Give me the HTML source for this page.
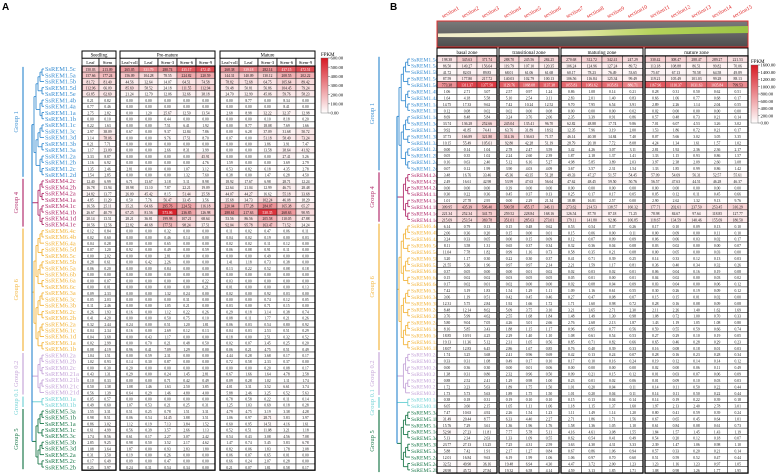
<!DOCTYPE html>
<html><head><meta charset="utf-8">
<style>
html,body{margin:0;padding:0;background:#fff;}
svg{display:block;font-family:"Liberation Serif",serif;}
</style></head>
<body>
<svg id="fig" width="779" height="474" viewBox="0 0 779 474" xmlns="http://www.w3.org/2000/svg">
<defs>
<linearGradient id="leafGrad" x1="0" x2="1" y1="0" y2="0"><stop offset="0" stop-color="#f3efcf"/><stop offset="0.45" stop-color="#e4e6a8"/><stop offset="0.7" stop-color="#b4d25a"/><stop offset="1" stop-color="#9cc444"/></linearGradient>
<linearGradient id="bgGrad" x1="0" x2="0" y1="0" y2="1"><stop offset="0" stop-color="#7a7a7a"/><stop offset="1" stop-color="#4e4e4e"/></linearGradient>
<linearGradient id="fpkmGrad" x1="0" x2="0" y1="0" y2="1"><stop offset="0" stop-color="rgb(215,25,35)"/><stop offset="1" stop-color="#ffffff"/></linearGradient>
</defs>
<text x="2" y="10" font-family="Liberation Sans" font-weight="bold" font-size="10">A</text>
<text x="390" y="10" font-family="Liberation Sans" font-weight="bold" font-size="10">B</text>
<g id="gA"></g>
<g id="gB"></g>
</svg>
<script>
const genes = ["1.5c","1.5a","1.5b","1.5d","1.5e","1.4b","1.4a","1.1a","1.1b","1.1c","1.3c","1.3d","1.3b","1.3a","1.2a","1.2b","1.2c","1.2d",
"4.2c","4.2b","4.2a","4.1a","4.1c","4.1b","4.1d","4.1e",
"6.4c","6.4b","6.4a","6.5d","6.5c","6.5b","6.5a","6.6b","6.6a","6.6c","6.3a","6.3c","6.3b","6.2c","6.2b","6.2a","6.1c","6.1d","6.1a","6.1b",
"0.2a","0.2b","0.2c","0.21a","0.21b","0.21c","0.21d","0.1a","0.1b",
"5.3a","5.1b","5.1a","5.1c","5.3c","5.3b","5.3d","5.2a","5.2c","5.2b"];
const groupNames = ["Group 1","Group 4","Group 6","Group 0.2","Group 0.1","Group 5"];
const groupSizes = [18,8,20,7,2,10];
const groupColors = ["#3b8fd2","#b3306e","#f3b63f","#c6a6d9","#74d3d6","#1e7a4c"];
const stagesA = ["Seedling","Pre-mature","Mature"];
const colsA = [["Leaf","Stem"],["Leaf-roll","Leaf","Stem-3","Stem-6","Stem-9"],["Leaf-roll","Leaf","Stem-3","Stem-6","Stem-9"]];
const zonesB = ["basal zone","transitional zone","maturing zone","mature zone"];
const zoneColsB = [3,3,4,5];
const sectionsB = ["section1","section2","section3","section4","section5","section6","section7","section8","section9","section10","section11","section12","section13","section14","section15"];
const legendTicksA = [600,500,400,300,200,100,0];
const legendTicksB = [1600,1400,1200,1000,800,600,400,200,0];
const valsA = [
[150.03,213.09,265.05,331.79,280.74,435.17,472.45,268.38,339.18,282.14,437.15,472.51],
[157.66,177.24,156.09,104.28,78.55,224.82,220.59,144.31,140.09,130.12,208.55,202.22],
[81.72,81.40,44.56,32.64,14.07,64.51,74.58,78.82,72.68,64.75,105.64,89.42],
[112.96,66.09,85.69,58.52,24.18,111.55,112.94,59.48,50.81,56.86,104.45,79.24],
[63.85,62.69,21.24,12.79,12.06,32.66,38.18,24.70,32.99,45.06,59.76,58.23],
[0.21,0.82,0,0,0,0,0,0,8.77,0,8.34,0],
[0.77,0.46,0,0,0,0,0,0,0,0,8.41,0],
[2.75,2.82,0,1.20,25.67,12.50,13.54,2.68,8.98,32.22,32.37,12.98],
[0,0.10,0,0,0.44,0,0,0,0,0.10,8.18,0.20],
[0.22,1.63,0,0,7.51,6.41,1.92,0,8.77,18.08,7.69,1.66],
[2.97,38.09,0.67,0,9.37,12.84,7.86,0,6.28,37.09,31.68,50.72],
[3.14,78.06,0,0,9.76,17.51,8.70,0.07,0,51.18,58.49,73.24],
[0.21,7.71,0,0,0,0,0,0,0,3.86,3.91,7.47],
[1.17,23.09,0,0,2.66,8.31,3.99,0,0,13.58,38.64,41.92],
[3.33,8.87,0,0,0,0,45.91,0,0,0,27.41,5.26],
[1.16,6.92,0,0,0,0,4.76,1.59,0,0,3.69,2.79],
[1.35,2.46,2.81,0,0,1.07,3.12,0.53,0.82,6.18,4.35,2.78],
[1.54,2.85,0,0,0,1.32,7.60,0.38,0,1.47,6.28,4.50],
[12.40,6.99,6.71,13.67,3.18,5.11,8.98,18.92,17.67,6.98,28.71,12.24],
[16.78,13.94,18.98,13.10,7.87,22.21,19.09,22.64,21.04,12.99,46.73,28.48],
[24.82,13.77,26.09,45.42,8.15,51.44,25.58,44.07,44.27,16.62,55.18,33.68],
[4.85,11.29,0.50,7.76,56.47,33.45,3.56,35.68,34.73,102.24,46.08,18.29],
[16.56,25.11,35.21,64.66,295.76,224.52,116.18,220.04,177.28,284.07,165.38,65.27],
[26.67,40.79,67.25,81.56,573.06,236.85,126.98,288.61,217.63,530.35,268.63,90.95],
[20.14,13.51,28.21,36.81,199.98,107.21,68.64,53.56,86.56,205.58,110.05,47.88],
[10.56,12.56,22.82,40.68,177.51,98.24,37.51,92.04,95.78,163.47,71.52,24.24],
[0.12,0.84,0,0,0.32,0,0,0.11,0.02,0.47,0.06,0.11],
[0.02,0.60,0,0,0.46,0.14,0,0.04,0.02,0.19,0,0.03],
[0.04,0.28,0,0,0.65,0,0,0.02,0.02,0.11,0.12,0],
[0.07,1.20,0.92,0,0.49,0,0.59,0.06,0.08,0.91,0.11,0],
[0,2.02,0,0,2.81,0,0,0,0,0.49,0,0],
[0.28,0.61,0,6.42,2.26,0,0,1.41,1.18,0.73,0.38,0],
[0.06,0.20,0,0,0.84,0,0,0.13,0.22,0.52,0.08,0.18],
[0,0,0,0,0,0,0,0,0,0,0,0],
[0,0.07,0,0,0,0,0.22,0.03,0,0,0,0],
[0,0.01,0,0,0,0,0.21,0.01,0,0,0,0.13],
[0.09,2.33,0,0,1.32,0.24,0,0.02,0,0.92,0.03,0],
[0.05,2.03,0,0,0,0.31,0,0,0,0.74,0.12,0.05],
[0.11,2.46,0,0,1.05,0.21,0,0.03,0,0.71,0.15,0],
[0.26,1.93,0.16,0,1.12,0.22,0.26,0.29,0.18,3.14,0.38,0.74],
[0.41,4.20,0,0,0.50,0.75,0.10,0.08,0.11,1.77,0.21,0.26],
[0.32,2.44,0.24,0,0.51,1.20,1.81,0.06,0.03,0.54,0.80,0.92],
[0.04,2.34,0.16,0,2.69,0.12,0.13,0.04,0.03,2.53,0.51,0.29],
[0.04,3.68,0,0.43,1.17,0,0,0.18,0,2.51,0.32,0.52],
[0.02,2.99,0,0.70,0.21,0.48,0.50,0.02,0.07,3.45,0.25,0.20],
[0.08,4.19,0.96,0.41,7.09,1.29,0,0.06,0.21,4.75,0.51,0.49],
[1.04,1.51,0,0.59,2.31,0,0,4.44,0.28,3.68,0.17,0.17],
[1.02,0.93,0.14,0.30,0.87,0,0,0.72,0.58,2.33,0.37,0],
[0,0.30,0.20,0,0,0,0,0,0,0.20,0.08,0.17],
[0.43,1.31,0.29,0,0.24,1.45,2.81,0.67,1.66,1.64,4.78,2.58],
[0.10,0.33,0,0,0.71,0.42,0.49,0.09,0.28,1.02,1.11,1.74],
[0.50,1.38,1.08,1.46,1.63,2.50,3.85,4.01,3.31,3.52,6.61,3.74],
[0.56,1.39,0.64,0.29,1.46,4.80,4.00,5.88,2.46,3.25,6.52,5.63],
[0.05,0.57,0,0,0,0,0,0.78,0.58,0.22,0.11,0.14],
[0.49,0.60,1.07,0.53,0.21,0.25,0.31,1.25,1.03,0.69,0.18,0.28],
[1.55,3.31,0.51,0.25,0.78,1.51,3.31,4.79,4.75,3.19,3.38,4.28],
[0.98,8.51,0.06,0.54,14.45,3.88,3.51,1.06,0.97,28.71,5.83,3.97],
[0.86,3.02,1.12,0.19,7.13,3.84,1.52,0.60,0.95,14.51,4.16,1.61],
[0.61,4.99,0.56,0.39,3.57,2.66,1.13,0.52,0.51,11.08,3.21,1.18],
[1.74,8.56,0.61,0.17,2.27,3.07,2.42,0.54,0.43,3.08,4.56,7.08],
[2.85,9.25,0.98,0.50,3.52,2.17,4.62,1.47,0.74,5.45,5.83,6.78],
[1.08,3.64,1.87,0,0.93,2.83,1.80,0.82,0.06,1.83,1.78,2.08],
[0.31,3.50,0.19,0,0.26,0,0,0.06,0.07,0.65,0.01,0],
[0.17,6.49,0.09,0,0.47,0,0,0.66,0.24,2.07,0.28,0],
[0.25,5.97,0.24,0.31,0.54,0.34,0,0.21,0.07,1.81,0.58,0.17]];
const valsB = [
[198.38,345.63,371.74,288.70,245.56,284.25,270.68,312.72,342.41,247.29,330.42,308.47,288.47,289.27,221.53],
[86.50,149.27,156.64,119.79,107.10,120.35,106.24,124.96,127.24,89.72,113.18,108.88,86.51,99.82,70.06],
[41.72,82.03,89.83,68.01,61.06,61.68,60.17,78.23,76.49,53.65,75.67,67.13,70.58,64.58,49.89],
[87.59,177.80,217.72,140.03,102.79,100.13,106.56,116.84,125.34,99.49,119.21,105.49,101.03,99.28,88.13],
[773.38,1311.37,1377.50,1129.76,1068.08,1137.38,1055.83,1083.62,1035.83,886.71,1167.96,1110.37,1031.63,1035.84,799.53],
[1.06,2.71,3.07,2.57,0.97,1.24,0.86,1.08,0.14,0.21,0.28,0.31,0.50,0.62,0.51],
[1.64,4.18,5.58,5.10,2.54,3.11,2.83,2.01,1.40,0.83,0.66,1.06,0.77,0.68,0.17],
[14.75,17.33,9.62,7.42,10.24,12.52,9.70,7.95,6.54,3.91,2.89,2.26,1.14,2.04,0.55],
[0.12,0.08,0.02,0.02,0,0.08,0,0,0,0.02,0.02,0,0,0,0],
[8.69,8.48,5.84,3.24,3.76,2.06,2.35,3.39,0.91,0.86,0.57,0.48,0.73,0.21,0.14],
[33.74,136.28,252.66,245.04,135.41,96.70,62.82,48.88,17.74,9.86,7.01,6.07,4.53,3.26,3.02],
[9.92,41.85,74.41,63.76,31.89,18.92,12.35,7.96,3.19,2.00,1.53,1.86,0.72,0.21,0.17],
[37.73,166.89,321.80,314.16,136.63,71.57,46.14,40.38,14.84,7.40,8.07,5.66,3.02,3.05,3.35],
[10.15,55.49,105.61,92.80,42.28,51.19,28.79,20.18,7.72,8.08,4.24,1.34,1.61,1.57,1.02],
[0,0.14,1.04,2.78,2.47,3.59,3.42,4.26,3.07,3.11,2.81,1.92,2.36,2.36,2.17],
[0.05,0.35,1.02,2.24,2.60,2.39,1.87,2.18,1.37,1.41,1.33,1.15,0.93,0.86,1.57],
[0.16,0.63,2.40,5.12,6.16,5.27,4.98,5.85,3.89,2.03,3.97,2.38,2.09,2.60,3.08],
[0.07,0.12,1.99,3.90,4.03,4.09,3.67,3.57,2.31,1.54,1.33,1.85,0.99,0.86,1.42],
[3.48,16.76,33.46,45.36,43.35,51.28,49.33,47.27,51.57,54.45,57.09,54.69,56.31,52.57,55.61],
[2.49,16.61,42.98,53.99,47.63,56.64,47.62,48.45,59.50,50.76,56.57,47.63,44.51,46.28,46.37],
[0,0,0,0.39,0,0,0,0,0,0,0,0,0,0,0],
[0.30,0.22,0.36,0.45,0.37,0.13,0.25,0.17,0.17,0.05,0.05,0.12,0.11,0.45,0.66],
[1.01,27.78,2.95,0,2.29,21.34,18.88,16.81,2.57,0,2.90,2.62,1.32,9.13,9.76],
[309.95,435.39,506.40,500.58,455.17,346.11,273.62,214.53,138.57,160.32,177.71,202.61,237.50,253.45,316.29],
[221.34,252.34,341.75,259.52,228.84,168.16,126.54,87.70,87.18,71.25,78.98,84.67,97.64,118.85,127.77],
[215.69,253.54,369.78,351.01,285.63,273.01,179.11,141.80,92.86,106.85,118.67,134.59,140.46,155.69,180.50],
[6.14,0.79,0.13,0.15,0.48,0.62,0.53,0.54,0.37,0.26,0.17,0.10,0.09,0.13,0.10],
[2.06,0.36,0.20,0.15,0,0.01,0.15,0.06,0,0.11,0,0.09,0,0.11,0.10],
[3.24,0.33,0.05,0,0.15,0.09,0.12,0.07,0.09,0.09,0.06,0.06,0.03,0.02,0.17],
[8.11,3.58,1.31,0.65,0.37,0.34,0.32,0.36,0.04,0.08,0.03,0.02,0,0,0.07],
[11.04,7.78,1.82,0.99,1.16,0.73,0.58,0.35,0.21,0.08,0,0.05,0,0.03,0],
[3.20,1.17,0.30,0.22,0.30,0.37,0.41,0.71,0.39,0.25,0.14,0.33,0.12,0.13,0.03],
[21.55,5.36,1.96,0.97,0.97,2.14,2.21,1.59,1.17,0.81,0.36,0.40,0.34,0.32,0.26],
[0.37,0.05,0,0,0.01,0.02,0.02,0.03,0.02,0.01,0.06,0.04,0.16,0.19,0.08],
[0.15,0.02,0.02,0.03,0.05,0.05,0.05,0.01,0,0.01,0.04,0.02,0,0.03,0.02],
[0.17,0.02,0.01,0.02,0,0,0.02,0.08,0.04,0.09,0.03,0.04,0,0.06,0.12],
[7.42,3.19,1.83,1.54,1.29,1.11,1.09,1.16,0.61,0.55,0.30,0.26,0.19,0.09,0.12],
[3.06,1.19,0.51,0.42,0.45,0.46,0.27,0.47,0.08,0.07,0.15,0.15,0.01,0.02,0],
[12.31,5.75,2.84,1.92,1.66,1.72,1.71,1.60,0.98,0.72,0.28,0.16,0.08,0.09,0.08],
[8.48,12.14,8.62,5.09,3.75,3.10,3.21,3.65,2.71,2.30,2.11,2.26,1.40,1.62,1.69],
[3.76,5.99,4.62,2.55,1.68,1.84,1.48,1.49,1.30,0.98,1.08,0.72,1.00,0.70,0.33],
[5.80,9.04,7.05,4.26,3.01,2.66,2.76,2.68,2.13,1.87,1.43,1.19,1.05,1.08,0.80],
[8.16,5.85,3.43,1.88,1.15,1.17,0.96,0.95,0.77,0.56,0.59,0.55,0.59,0.66,0.74],
[18.85,10.91,4.25,2.29,1.40,1.10,1.08,0.61,0.54,0.53,0.27,0.29,0.10,0.19,0.05],
[19.13,11.36,5.12,2.31,1.05,0.56,0.85,0.71,0.82,0.66,0.65,0.46,0.28,0.29,0.23],
[18.07,12.83,6.45,2.86,1.67,0.85,0.76,0.40,0.39,0.33,0.16,0.08,0.18,0.01,0.03],
[1.74,3.25,3.68,2.41,0.96,0.69,0.42,0.13,0.24,0.07,0.28,0.16,0.23,0.28,0.34],
[0.33,0.31,1.08,0.49,0.17,0.10,0.17,0.10,0.16,0.24,0.19,0.12,0.14,0.14,0.12],
[0,0.36,0.30,0,0.01,0.06,0,0,0,0,0.02,0,0.06,0.11,0.49],
[1.38,0.31,0.80,2.32,0.96,0.50,0.09,0.21,0.15,0.12,0.01,0.03,0.07,0.06,0.09],
[0.88,2.52,2.41,1.29,0.98,1.00,0.23,0.01,0.02,0.06,0.01,0.09,0.10,0.03,0.03],
[1.72,3.23,5.63,1.89,1.75,1.50,1.01,0.20,0.04,0.11,0.14,0.11,0.50,0.22,0.44],
[1.73,5.73,5.63,1.89,1.75,1.50,1.01,0.20,0.04,0.11,0.14,0.11,0.50,0.22,0.44],
[0.38,0.18,0.31,0.19,0.10,0.10,0.15,0.13,0.04,0.14,0.14,0.19,0.22,0.39,0.18],
[6.05,3.60,2.15,1.05,1.11,1.06,1.18,1.15,1.37,1.60,1.97,2.13,2.40,2.78,3.01],
[7.47,10.63,4.92,2.26,1.54,1.23,1.11,1.49,1.14,1.20,0.80,0.41,0.59,0.39,0.24],
[31.49,20.44,8.77,6.33,4.40,2.27,2.71,1.86,1.71,1.56,0.67,0.65,0.45,0.64,1.01],
[15.76,7.29,3.61,1.36,1.96,1.76,1.58,1.36,1.05,1.10,0.61,0.84,0.08,0.61,0.73],
[52.90,27.23,11.81,7.77,5.78,5.11,4.16,4.61,3.08,1.55,1.84,1.57,1.45,1.43,1.19],
[5.13,2.34,2.63,1.33,1.09,0.55,0.62,0.54,0.41,0.49,0.54,0.20,0.12,0.18,0.07],
[23.77,27.13,13.25,7.25,4.31,2.59,3.63,4.30,4.31,3.33,2.39,1.47,1.06,0.98,1.10],
[5.88,7.42,1.91,2.17,1.27,0.84,0.67,0.86,1.06,0.94,0.57,0.33,0.20,0.21,0.14],
[12.01,16.84,9.63,6.19,1.99,1.06,1.06,0.97,0.70,0.60,0.51,0.59,0.52,0.47,0.44],
[32.52,49.90,36.16,19.48,6.94,4.30,4.47,3.72,2.00,1.23,1.23,1.16,1.23,0.97,1.05],
[28.98,45.72,27.84,19.32,6.58,4.14,4.59,3.13,1.85,1.71,1.08,0.98,1.26,1.77,1.95]];

const NS = "http://www.w3.org/2000/svg";
function mk(parent, tag, attrs, text) {
  const e = document.createElementNS(NS, tag);
  for (const k in attrs) e.setAttribute(k, attrs[k]);
  if (text !== undefined) e.textContent = text;
  parent.appendChild(e);
  return e;
}
function heat(v, max) {
  const t = Math.max(0, Math.min(1, v / max));
  const r = Math.round(255 - 40 * t), g = Math.round(255 - 230 * t), b = Math.round(255 - 220 * t);
  return "rgb(" + r + "," + g + "," + b + ")";
}
function groupOf(i) {
  let s = 0;
  for (let g = 0; g < groupSizes.length; g++) { if (i < s + groupSizes[g]) return g; s += groupSizes[g]; }
  return groupSizes.length - 1;
}

function drawPanel(root, cfg) {
  const vals = cfg.vals;
  const yC = i => cfg.y0 + i * cfg.rh;
  // group brackets + labels
  let s = 0;
  groupNames.forEach((gn, g) => {
    const e = s + groupSizes[g] - 1;
    const col = groupColors[g];
    const ln = mk(root, "line", {x1: cfg.bracketX, x2: cfg.bracketX, y1: yC(s) - cfg.rh / 2 + 1, y2: yC(e) + cfg.rh / 2 - 1, stroke: col, "stroke-width": 1.2});
    
    
    const cy = (yC(s) + yC(e)) / 2;
    const t = mk(root, "text", {x: cfg.bracketX - 5, y: cy, fill: col, "font-size": 6.5, "text-anchor": "middle", transform: "rotate(-90 " + (cfg.bracketX - 5) + " " + cy + ")"}, gn);
    
    
    // dendrogram for group
    const node = tree(root, s, e, cfg, col, yC);
    s = e + 1;
    node.g = g;
    cfg.nodes.push(node);
  });
  // root join
  const xs = Math.min.apply(null, cfg.nodes.map(n => n.x)) - 2;
  cfg.nodes.forEach(n => {
    mk(root, "line", {x1: xs, x2: n.x, y1: n.y, y2: n.y, stroke: groupColors[n.g], "stroke-width": 1});
  });
  mk(root, "line", {x1: xs, x2: xs, y1: cfg.nodes[0].y, y2: cfg.nodes[cfg.nodes.length - 1].y, stroke: "#3b8fd2", "stroke-width": 1.2});

  // gene labels
  genes.forEach((gname, i) => {
    const t = mk(root, "text", {x: cfg.labelX, y: yC(i) + cfg.rh * 0.36, fill: groupColors[groupOf(i)], "font-size": cfg.labelFs}, "SsREM" + gname);
    
    
  });

  // blocks
  let colIdx = 0;
  cfg.blocks.forEach((b, bi) => {
    const bw = (b.x1 - b.x0) / b.n;
    const top = yC(0) - cfg.rh / 2, bot = yC(genes.length - 1) + cfg.rh / 2;
    const bg = mk(root, "g", {});
    
    
    for (let i = 0; i < genes.length; i++) {
      for (let c = 0; c < b.n; c++) {
        const v = vals[i][colIdx + c];
        const x = b.x0 + c * bw, y = yC(i) - cfg.rh / 2;
        const r = mk(bg, "rect", {x: x, y: y, width: bw, height: cfg.rh, fill: heat(v, cfg.max), stroke: "#222", "stroke-width": 0.5});
        
        
        const tcol = v / cfg.max > 0.55 ? "#fff" : "#111";
        mk(bg, "text", {x: x + bw / 2, y: yC(i) + cfg.rh * 0.3, "font-size": cfg.cellFs, "text-anchor": "middle", fill: tcol}, v.toFixed(2));
      }
    }
    mk(bg, "rect", {x: b.x0, y: top, width: b.x1 - b.x0, height: bot - top, fill: "none", stroke: "#000", "stroke-width": 1.3});
    // headers
    const h = mk(root, "rect", {x: b.x0, y: cfg.h0, width: b.x1 - b.x0, height: cfg.h1 - cfg.h0, fill: "#fff", stroke: "#000", "stroke-width": 1});
    
    
    mk(root, "text", {x: (b.x0 + b.x1) / 2, y: (cfg.h0 + cfg.h1) / 2 + 2, "font-size": cfg.headFs, "text-anchor": "middle"}, b.title);
    if (b.cols) {
      b.cols.forEach((cn, c) => {
        const r = mk(root, "rect", {x: b.x0 + c * bw, y: cfg.h1, width: bw, height: top - cfg.h1, fill: "#fff", stroke: "#000", "stroke-width": 0.8});
        
        
        mk(root, "text", {x: b.x0 + c * bw + bw / 2, y: (cfg.h1 + top) / 2 + 1.7, "font-size": 4.6, "text-anchor": "middle"}, cn);
      });
    }
    colIdx += b.n;
  });

  // legend
  const L = cfg.legend;
  const lg = mk(root, "g", {});
  
  
  mk(lg, "text", {x: L.x, y: L.y0 - 2, "font-size": 5}, "FPKM");
  mk(lg, "rect", {x: L.x, y: L.y0, width: 7, height: L.y1 - L.y0, fill: "url(#fpkmGrad)", stroke: "#666", "stroke-width": 0.4});
  const tmax = cfg.ticks[0];
  cfg.ticks.forEach(tv => {
    const y = L.y1 - (tv / tmax) * (L.y1 - L.y0);
    mk(lg, "line", {x1: L.x + 7, x2: L.x + 9, y1: y, y2: y, stroke: "#333", "stroke-width": 0.4});
    mk(lg, "text", {x: L.x + 9.5, y: y + 1.6, "font-size": 4.6}, tv.toFixed(2));
  });
}

function tree(root, s, e, cfg, col, yC) {
  if (s === e) return {x: cfg.leafX, y: yC(s)};
  const m = Math.floor((s + e) / 2);
  const a = tree(root, s, m, cfg, col, yC), b = tree(root, m + 1, e, cfg, col, yC);
  const x = Math.min(a.x, b.x) - cfg.step;
  mk(root, "line", {x1: x, x2: a.x, y1: a.y, y2: a.y, stroke: col, "stroke-width": 0.9});
  mk(root, "line", {x1: x, x2: b.x, y1: b.y, y2: b.y, stroke: col, "stroke-width": 0.9});
  mk(root, "line", {x1: x, x2: x, y1: a.y, y2: b.y, stroke: col, "stroke-width": 0.9});
  return {x: x, y: (a.y + b.y) / 2};
}

// Panel A
drawPanel(document.getElementById("gA"), {
  vals: valsA, max: 600, y0: 69, rh: 6.22, bracketX: 23, leafX: 44, step: 2, labelX: 45, labelFs: 6.4, cellFs: 3.6, headFs: 4.8,
  h0: 51, h1: 58.3, nodes: [],
  blocks: [
    {x0: 82, x1: 116, n: 2, title: stagesA[0], cols: colsA[0]},
    {x0: 120, x1: 215, n: 5, title: stagesA[1], cols: colsA[1]},
    {x0: 220, x1: 315, n: 5, title: stagesA[2], cols: colsA[2]}],
  legend: {x: 321, y0: 58, y1: 113}, ticks: legendTicksA
});

// Panel B
const gB = document.getElementById("gB");
(function () {
  // leaf photo
  const ph = mk(gB, "g", {});
  
  
  mk(ph, "rect", {x: 437, y: 21, width: 311, height: 26, fill: "url(#bgGrad)", stroke: "#e03030", "stroke-width": 1});
  mk(ph, "path", {d: "M438,33.5 Q520,32.5 600,30 Q680,27 748,26 L748,33 Q680,34 600,36 Q520,37.5 438,37 Z", fill: "url(#leafGrad)"});
  // section labels
  const xb = [[437, 497, 3], [499, 559, 3], [561, 643, 4], [645, 748, 5]];
  let k = 0;
  xb.forEach(b => {
    const w = (b[1] - b[0]) / b[2];
    for (let c = 0; c < b[2]; c++) {
      const cx = b[0] + w * c + w / 2 - 4;
      const t = mk(gB, "text", {x: cx, y: 18, "font-size": 5.6, fill: "#e02a2a", transform: "rotate(-28 " + cx + " 18)"}, sectionsB[k]);
      
      
      k++;
    }
  });
})();
drawPanel(gB, {
  vals: valsB, max: 1600, y0: 59, rh: 6.42, bracketX: 379, leafX: 410, step: 2.2, labelX: 411, labelFs: 5.6, cellFs: 3.7, headFs: 5,
  h0: 48, h1: 55.8, nodes: [],
  blocks: [
    {x0: 437, x1: 497, n: zoneColsB[0], title: zonesB[0]},
    {x0: 499, x1: 559, n: zoneColsB[1], title: zonesB[1]},
    {x0: 561, x1: 643, n: zoneColsB[2], title: zonesB[2]},
    {x0: 645, x1: 748, n: zoneColsB[3], title: zonesB[3]}],
  legend: {x: 751, y0: 65, y1: 123}, ticks: legendTicksB
});
</script>
</body></html>
